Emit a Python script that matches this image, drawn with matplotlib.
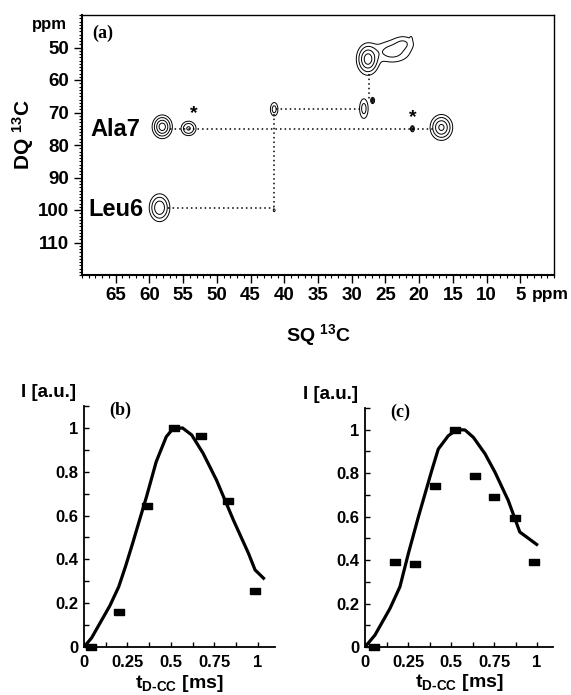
import numpy as np
import matplotlib
matplotlib.use("Agg")
import matplotlib.pyplot as plt
from matplotlib.path import Path
from matplotlib.ticker import MultipleLocator

plt.rcParams['font.family'] = ['Liberation Sans', 'DejaVu Sans']
plt.rcParams['font.weight'] = 'bold'
plt.rcParams['mathtext.fontset'] = 'custom'
plt.rcParams['mathtext.rm'] = 'Liberation Sans:bold'
plt.rcParams['mathtext.bf'] = 'Liberation Sans:bold'
plt.rcParams['mathtext.it'] = 'Liberation Sans:bold'

# --- panel (a): 2D DQ/SQ spectrum, peaks (ppm) ---
peak_sq = [58.1, 54.2, 58.5, 41.5, 41.5, 27.6, 24.0, 22.3, 21.2, 28.2, 26.9, 16.7, 21.0]
peak_dq = [74.4, 74.9, 99.3, 69.0, 100.1, 53.6, 51.3, 48.6, 47.4, 68.8, 66.3, 74.6, 75.0]
peak_amp = [1.0, 0.55, 0.8, 0.35, 0.15, 1.0, 0.35, 0.22, 0.12, 0.35, 0.6, 0.9, 0.6]
peak_wsq = [0.7, 0.6, 0.75, 0.35, 0.15, 0.8, 1.6, 1.0, 0.12, 0.4, 0.15, 0.8, 0.15]
peak_wdq = [1.7, 1.2, 2.1, 1.3, 0.45, 2.3, 2.0, 1.4, 0.6, 1.9, 0.5, 1.9, 0.5]
contour_levels = [0.1, 0.25, 0.5, 0.8]

# dotted connectivity lines
link_sq = [[57.0, 18.0], [41.2, 28.6], [41.5, 41.5], [57.2, 41.5], [27.5, 27.5]]
link_dq = [[75.0, 75.0], [69.0, 69.0], [70.5, 99.5], [99.5, 99.5], [58.3, 66.0]]

star_sq = [53.4, 20.9]
star_dq = [70.2, 71.5]

# --- panels (b) and (c): build-up curves ---
b_t = [0.04, 0.20, 0.36, 0.517, 0.672, 0.83, 0.987]
b_i = [0.0, 0.16, 0.645, 1.0, 0.965, 0.668, 0.257]
b_fit_t = [0.0, 0.044, 0.10, 0.15, 0.20, 0.24, 0.28, 0.32, 0.36, 0.416, 0.474, 0.51,
           0.567, 0.62, 0.686, 0.763, 0.86, 0.947, 0.985, 1.034]
b_fit_i = [0.0, 0.042, 0.12, 0.19, 0.275, 0.37, 0.473, 0.58, 0.686, 0.846, 0.96, 0.994,
           1.0, 0.968, 0.884, 0.762, 0.58, 0.428, 0.352, 0.314]

c_t = [0.055, 0.174, 0.29, 0.407, 0.523, 0.64, 0.752, 0.872, 0.984]
c_i = [0.0, 0.389, 0.381, 0.742, 1.0, 0.786, 0.69, 0.596, 0.393]
c_fit_t = [0.0, 0.058, 0.145, 0.203, 0.252, 0.31, 0.388, 0.426, 0.484, 0.533, 0.581,
           0.63, 0.698, 0.756, 0.833, 0.9, 0.94, 0.998]
c_fit_i = [0.0, 0.055, 0.177, 0.277, 0.43, 0.598, 0.812, 0.911, 0.972, 1.0, 0.999,
           0.965, 0.889, 0.804, 0.674, 0.529, 0.506, 0.472]

fig = plt.figure(figsize=(5.71, 6.95), dpi=100)
W, H = 571.0, 695.0

# ---------------- (a) ----------------
ax = fig.add_axes([82 / W, 1 - 275 / H, 472 / W, 260 / H])
sq = np.arange(0, 70.01, 0.05)
dq = np.arange(40, 120.01, 0.1)
X, Y = np.meshgrid(sq, dq)
Z = np.zeros_like(X)
for x0, y0, a, sx, sy in zip(peak_sq, peak_dq, peak_amp, peak_wsq, peak_wdq):
    Z += a * np.exp(-0.5 * ((X - x0) / sx) ** 2 - 0.5 * ((Y - y0) / sy) ** 2)
ax.contour(X, Y, Z, levels=contour_levels, colors='black', linewidths=0.7, zorder=3)

for xs, ys in zip(link_sq, link_dq):
    ax.plot(xs, ys, color='black', linestyle=(0, (1, 2)), linewidth=1.1, zorder=2)
for xs, ys in zip(star_sq, star_dq):
    ax.text(xs, ys, '*', fontsize=14, ha='center', va='center')

ax.text(65.0, 75.2, 'Ala7', fontsize=17, ha='center', va='center')
ax.text(65.0, 99.8, 'Leu6', fontsize=17, ha='center', va='center')
ax.text(0.021, 0.93, '(a)', transform=ax.transAxes, family='Liberation Serif',
        fontsize=13, fontweight='bold', ha='left', va='center')

ax.set_xlim(70, 0)
ax.set_ylim(120, 40)
ax.xaxis.set_minor_locator(MultipleLocator(1))
ax.yaxis.set_minor_locator(MultipleLocator(1))
ax.set_xticks(np.arange(5, 70, 5))
ax.set_yticks(np.arange(50, 120, 10))
ax.tick_params(which='major', direction='out', length=6, width=1, labelsize=13.5, pad=3)
ax.tick_params(which='minor', direction='out', length=2.5, width=0.8)
for s in ['left', 'bottom']:
    ax.spines[s].set_linewidth(1.5)
for s in ['top', 'right']:
    ax.spines[s].set_linewidth(1.0)
ax.text(3.3, -0.045, 'ppm', transform=ax.get_xaxis_transform(), fontsize=12.5,
        ha='left', va='top')
ax.text(-0.032, 43.0, 'ppm', transform=ax.get_yaxis_transform(), fontsize=12,
        ha='right', va='center')
ax.text(-0.125, 0.54, 'DQ $^{\\mathregular{13}}$C', transform=ax.transAxes, fontsize=15,
        rotation=90, ha='center', va='center')
ax.text(0.5, -0.23, 'SQ $^{\\mathregular{13}}$C', transform=ax.transAxes, fontsize=14,
        ha='center', va='center')

# ---------------- (b), (c) ----------------
rect = Path([(-1, -0.7), (1, -0.7), (1, 0.7), (-1, 0.7), (-1, -0.7)])


def build_panel(rect_px, t, i, ft, fi, tag, xmax):
    l, r, top, bot = rect_px
    a = fig.add_axes([l / W, 1 - bot / H, (r - l) / W, (bot - top) / H])
    a.plot(ft, fi, color='black', linewidth=2.3, zorder=2)
    a.plot(t, i, linestyle='none', marker=rect, markersize=6.5, color='black',
           clip_on=False, zorder=3)
    a.set_xlim(0, xmax)
    a.set_ylim(0, 1.1)
    a.set_xticks([0, 0.25, 0.5, 0.75, 1])
    a.set_xticklabels(['0', '0.25', '0.5', '0.75', '1'])
    a.xaxis.set_minor_locator(MultipleLocator(0.125))
    a.set_yticks([0, 0.2, 0.4, 0.6, 0.8, 1])
    a.set_yticklabels(['0', '0.2', '0.4', '0.6', '0.8', '1'])
    a.yaxis.set_minor_locator(MultipleLocator(0.1))
    a.tick_params(which='both', direction='in', length=3.5, width=1, labelsize=12)
    a.tick_params(axis='x', which='both', pad=6)
    a.tick_params(axis='y', which='both', pad=4)
    a.spines['top'].set_visible(False)
    a.spines['right'].set_visible(False)
    for s in ['left', 'bottom']:
        a.spines[s].set_linewidth(1.3)
    a.text(-0.33, 1.055, 'I [a.u.]', transform=a.transAxes, fontsize=13.5,
           ha='left', va='center')
    a.text(0.19, 0.98, tag, transform=a.transAxes, family='Liberation Serif',
           fontsize=13, fontweight='bold', ha='center', va='center')
    a.text(0.5, -0.15, 't$_{\\mathregular{D\u2010CC}}$ [ms]', transform=a.transAxes,
           fontsize=14, ha='center', va='center')
    return a


build_panel((84, 275, 406, 647), b_t, b_i, b_fit_t, b_fit_i, '(b)', 1.1)
build_panel((365, 553, 408, 647), c_t, c_i, c_fit_t, c_fit_i, '(c)', 1.093)

fig.savefig('out.png', dpi=100)
